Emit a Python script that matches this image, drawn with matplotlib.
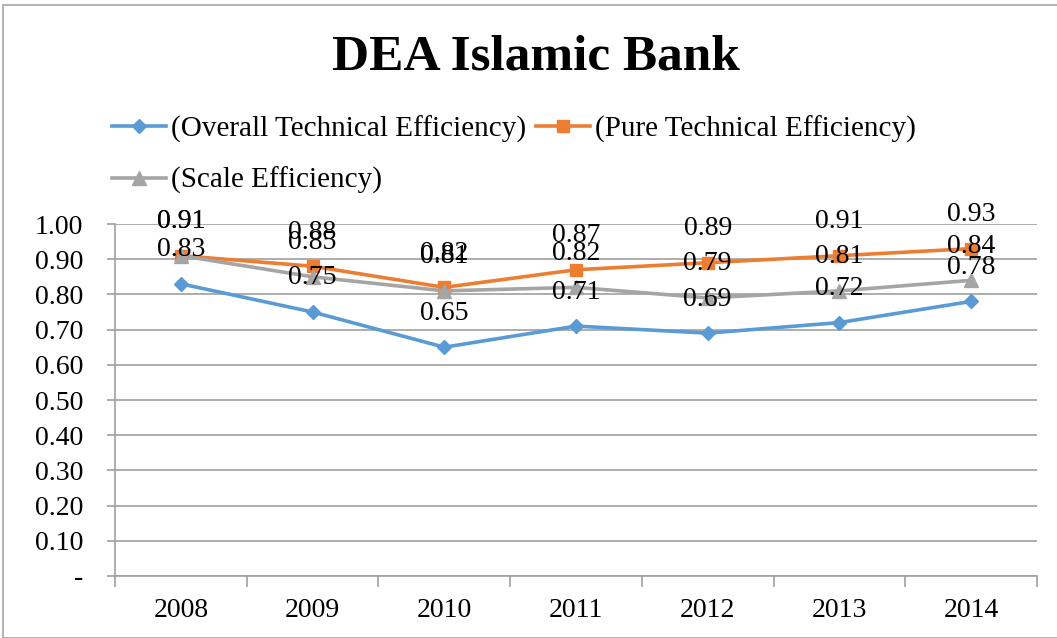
import matplotlib
matplotlib.use('Agg')
import matplotlib.pyplot as plt
from matplotlib.patches import Rectangle

years = ['2008', '2009', '2010', '2011', '2012', '2013', '2014']
overall_te = [0.83, 0.75, 0.65, 0.71, 0.69, 0.72, 0.78]
pure_te = [0.91, 0.88, 0.82, 0.87, 0.89, 0.91, 0.93]
scale_eff = [0.91, 0.85, 0.81, 0.82, 0.79, 0.81, 0.84]
yticks = [0.0, 0.1, 0.2, 0.3, 0.4, 0.5, 0.6, 0.7, 0.8, 0.9, 1.0]

plt.rcParams['font.family'] = ['Liberation Serif', 'DejaVu Serif']

W, H = 1057, 638
fig = plt.figure(figsize=(W / 100, H / 100), dpi=100)
# outer chart border
fig.patches.append(Rectangle((3 / W, 0), 1.2, 1 - 5 / H, transform=fig.transFigure,
                             fill=False, edgecolor='#a6a6a6', lw=1.2))

ax = fig.add_axes([115 / W, (H - 576) / H, (1037 - 115) / W, (576 - 224) / H])

series = [
    ('(Overall Technical Efficiency)', overall_te, '#5b9bd5', 'D', 7.5),
    ('(Pure Technical Efficiency)', pure_te, '#ed7d31', 's', 8),
    ('(Scale Efficiency)', scale_eff, '#a5a5a5', '^', 9.5),
]
x = list(range(len(years)))
handles = []
for name, vals, col, mk, ms in series:
    h, = ax.plot(x, vals, color=col, lw=2.6, marker=mk, ms=ms, label=name, zorder=3)
    handles.append(h)
    for xi, v in zip(x, vals):
        ax.annotate(f'{v:.2f}', (xi, v), xytext=(0, 24.5), textcoords='offset points',
                    ha='center', va='center', fontsize=20, color='black', zorder=4)

ax.set_xlim(-0.5, len(years) - 0.5)
ax.set_ylim(0, 1.0)
ax.set_yticks(yticks)
ax.set_yticklabels(['-'] + [f'{t:.2f}' for t in yticks[1:]], fontsize=20)
ax.yaxis.grid(True, color='#a0a0a0', lw=1.2)
ax.set_axisbelow(True)
ax.tick_params(axis='y', length=6, width=1.2, color='#a0a0a0', pad=17)

ax.set_xticks(x)
ax.set_xticklabels(years, fontsize=20)
ax.set_xticks([i - 0.5 for i in range(len(years) + 1)], minor=True)
ax.tick_params(axis='x', which='major', length=0, pad=16)
ax.tick_params(axis='x', which='minor', length=8, color='#a0a0a0', width=1.2)

for s in ['top', 'right']:
    ax.spines[s].set_visible(False)
ax.spines['left'].set_color('#a0a0a0')
ax.spines['bottom'].set_color('#a0a0a0')
ax.spines['left'].set_linewidth(1.2)
ax.spines['bottom'].set_linewidth(1.2)

fig.text(536 / W, 1 - 57 / H, 'DEA Islamic Bank', ha='center', va='center',
         fontsize=37, fontweight='bold')

# legend fills column-wise, so order handles to get overall/pure on the first row
fig.legend(handles=[handles[0], handles[2], handles[1]], loc='upper left',
           bbox_to_anchor=(100 / W, 1 - 104 / H), ncol=2, frameon=False, fontsize=21,
           handlelength=1.85, handletextpad=0.17, columnspacing=0.35,
           labelspacing=0.83, borderaxespad=0)

fig.savefig('out.png', dpi=100)
